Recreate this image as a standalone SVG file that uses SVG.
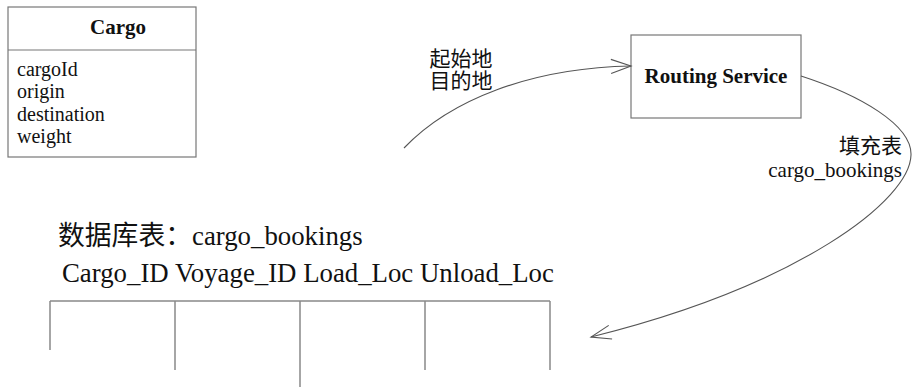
<svg xmlns="http://www.w3.org/2000/svg" width="913" height="387" viewBox="0 0 913 387">
<style>
.box{fill:#fff;stroke:#777;stroke-width:1.2}
.ln{stroke:#888;stroke-width:1.5;fill:none}
.edge{fill:none;stroke:#555;stroke-width:1.1}
.t{font-family:"Liberation Serif","Noto Sans CJK SC",serif;fill:#111}
.b{font-weight:bold}
</style>
<defs>
<marker id="open" markerWidth="24" markerHeight="16" refX="22" refY="8" orient="auto" markerUnits="userSpaceOnUse" overflow="visible">
<path d="M2,1 L22,8 L2,15" fill="none" stroke="#555" stroke-width="1.1"/>
</marker>
</defs>
<rect width="913" height="387" fill="#fff"/>
<g id="cargo">
<rect class="box" x="8" y="7" width="188" height="150"/>
<line class="box" x1="8" y1="50" x2="196" y2="50"/>
<text class="t b" x="118" y="34" font-size="21" text-anchor="middle">Cargo</text>
<text class="t" x="17" y="76" font-size="20">cargoId</text>
<text class="t" x="17" y="98.3" font-size="20">origin</text>
<text class="t" x="17" y="120.6" font-size="20">destination</text>
<text class="t" x="17" y="142.9" font-size="20">weight</text>
</g>
<g id="routing">
<rect class="box" x="631" y="35" width="170" height="83"/>
<text class="t b" x="716" y="83" font-size="21" text-anchor="middle">Routing Service</text>
</g>
<g id="table">
<text class="t" x="58" y="245" font-size="26.8">数据库表：cargo_bookings</text>
<text class="t" x="62" y="282" font-size="26.8">Cargo_ID Voyage_ID Load_Loc Unload_Loc</text>
<line class="ln" x1="50" y1="301" x2="550" y2="301"/>
<line class="ln" x1="50" y1="301" x2="50" y2="350"/>
<line class="ln" x1="175" y1="301" x2="175" y2="370"/>
<line class="ln" x1="300" y1="301" x2="300" y2="387"/>
<line class="ln" x1="425" y1="301" x2="425" y2="370"/>
<line class="ln" x1="550" y1="301" x2="550" y2="370"/>
</g>
<g id="connectors">
<path class="edge" d="M404,148 C450,100 530,68 631,66" marker-end="url(#open)"/>
<text class="t" x="461" y="66" font-size="21" text-anchor="middle">起始地</text>
<text class="t" x="461" y="88" font-size="21" text-anchor="middle">目的地</text>
<path class="edge" d="M801,76 C860,95 912,125 911,155 C910,200 800,285 591,337" marker-end="url(#open)"/>
<text class="t" x="902" y="153" font-size="21" text-anchor="end">填充表</text>
<text class="t" x="902" y="177" font-size="21" text-anchor="end">cargo_bookings</text>
</g>
</svg>
